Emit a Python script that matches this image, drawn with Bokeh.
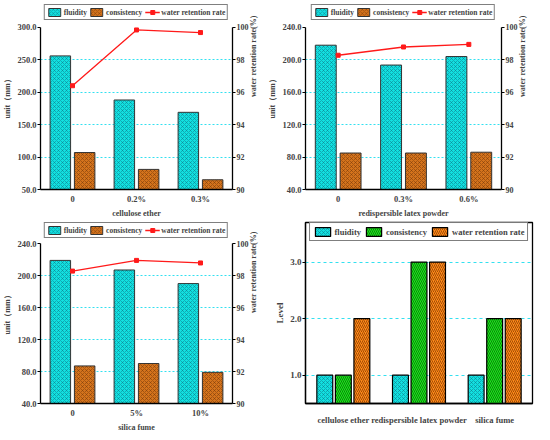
import math
from bokeh.plotting import figure
from bokeh.models import (Range1d, LinearAxis, FactorRange, Legend, LegendItem,
                          FixedTicker, NumeralTickFormatter, ColumnDataSource)
from bokeh.transform import dodge
from bokeh.layouts import column, row
from bokeh.embed import file_html
from bokeh.resources import INLINE

FONT = "Liberation Serif"

# ---- data ----
ce_cats = ["0", "0.2%", "0.3%"]
ce_fluidity = [256, 188, 169]
ce_consistency = [107, 81, 65]
ce_wrr = [96.4, 99.84, 99.68]

rlp_cats = ["0", "0.3%", "0.6%"]
rlp_fluidity = [218, 193.5, 204]
rlp_consistency = [85, 85, 86]
rlp_wrr = [98.28, 98.79, 98.95]

sf_cats = ["0", "5%", "10%"]
sf_fluidity = [219, 207, 190]
sf_consistency = [87, 90, 79]
sf_wrr = [98.28, 98.95, 98.79]

lvl_cats = ["cellulose ether", "redispersible latex powder", "silica fume"]
lvl_fluidity = [1, 1, 1]
lvl_consistency = [1, 3, 2]
lvl_wrr = [2, 3, 2]

series_names = ["fluidity", "consistency", "water retention rate"]

CYAN = "#12E0E0"
CYAN_H = "#0A6F80"
BROWN = "#D4731C"
BROWN_H = "#6E3306"


def style_axis(ax, size="8.5px"):
    ax.axis_line_width = 1.3
    ax.axis_line_color = "black"
    ax.major_tick_line_width = 1.2
    ax.major_tick_in = 0
    ax.major_tick_out = 3
    ax.minor_tick_line_color = None
    ax.major_label_text_font = FONT
    ax.major_label_text_font_style = "bold"
    ax.major_label_text_font_size = size
    ax.major_label_standoff = 1
    ax.axis_label_text_font = FONT
    ax.axis_label_text_font_style = "bold"
    ax.axis_label_text_font_size = "8px"
    ax.axis_label_standoff = 2
    ax.axis_label_text_line_height = 1.0


def make_panel(cats, fl, co, wr, ylo, yhi, ystep, xlabel, width, height, borders, pad):
    bl, br, bt, bb = borders
    top = yhi + (yhi - ylo) * pad
    p = figure(x_range=FactorRange(*cats), y_range=Range1d(ylo, top), title=None,
               width=width, height=height, output_backend="svg",
               toolbar_location=None, min_border_left=bl, min_border_right=br,
               min_border_top=bt, min_border_bottom=bb)
    p.outline_line_color = None
    src = ColumnDataSource(dict(cat=cats, fl=fl, co=co, wr=wr))
    r1 = p.vbar(x=dodge("cat", -0.19, range=p.x_range), top="fl", bottom=ylo,
                width=0.32, source=src, fill_color=CYAN, line_color="#333333",
                line_width=1, hatch_pattern="x", hatch_color=CYAN_H,
                hatch_scale=4, hatch_weight=0.6, hatch_alpha=0.8)
    r2 = p.vbar(x=dodge("cat", 0.19, range=p.x_range), top="co", bottom=ylo,
                width=0.32, source=src, fill_color=BROWN, line_color="#333333",
                line_width=1, hatch_pattern="x", hatch_color=BROWN_H,
                hatch_scale=4, hatch_weight=0.6, hatch_alpha=0.8)
    p.extra_y_ranges = {"wrr": Range1d(90, 100 + 10 * pad)}
    r3 = p.line(x="cat", y="wr", source=src, y_range_name="wrr",
                line_color="#FF1A1A", line_width=1.3)
    r4 = p.scatter(x="cat", y="wr", source=src, y_range_name="wrr",
                   marker="square", size=4, color="#FF1A1A")

    ticks = list(range(ylo, yhi + 1, ystep))
    left = p.yaxis[0]
    left.ticker = FixedTicker(ticks=ticks)
    left.formatter = NumeralTickFormatter(format="0.0")
    left.axis_label = "unit（mm）"
    left.bounds = (ylo, yhi)
    style_axis(left)

    right = LinearAxis(y_range_name="wrr", ticker=FixedTicker(ticks=[90, 92, 94, 96, 98, 100]),
                       axis_label="water retention rate(%)", bounds=(90, 100))
    style_axis(right, "8px")
    right.axis_label_orientation = math.pi / 2
    p.add_layout(right, "right")

    xa = p.xaxis[0]
    style_axis(xa)
    xa.major_tick_line_color = None
    xa.axis_label = xlabel

    p.xgrid.visible = False
    p.ygrid.ticker = FixedTicker(ticks=ticks[1:-1])
    p.ygrid.grid_line_color = "#33E0F0"
    p.ygrid.grid_line_dash = "2 2"
    p.ygrid.grid_line_width = 1

    leg = Legend(items=[LegendItem(label=series_names[0], renderers=[r1]),
                        LegendItem(label=series_names[1], renderers=[r2]),
                        LegendItem(label=series_names[2], renderers=[r3, r4])],
                 orientation="horizontal", location="top_center")
    leg.label_text_font = FONT
    leg.label_text_font_style = "bold"
    leg.label_text_font_size = "7.5px"
    leg.glyph_width = 15
    leg.glyph_height = 10
    leg.label_height = 10
    leg.label_standoff = 2
    leg.spacing = 2
    leg.padding = 2
    leg.margin = 0
    leg.border_line_color = "black"
    leg.border_line_width = 1.2
    p.add_layout(leg, "center")
    return p


p1 = make_panel(ce_cats, ce_fluidity, ce_consistency, ce_wrr, 50, 300, 50,
                "cellulose ether", 265, 220, (30, 20, 4, 28), 0.141)
p2 = make_panel(rlp_cats, rlp_fluidity, rlp_consistency, rlp_wrr, 40, 240, 40,
                "redispersible latex powder", 269, 220, (38, 20, 4, 28), 0.141)
p3 = make_panel(sf_cats, sf_fluidity, sf_consistency, sf_wrr, 40, 240, 40,
                "silica fume", 265, 214, (30, 20, 2, 28), 0.132)

# ---- level panel ----
p4 = figure(x_range=FactorRange(*lvl_cats), y_range=Range1d(0.5, 3.7), title=None,
            width=269, height=214, output_backend="svg", toolbar_location=None,
            min_border_left=40, min_border_right=2, min_border_top=2,
            min_border_bottom=28)
p4.outline_line_color = "black"
p4.outline_line_width = 1.3
src4 = ColumnDataSource(dict(cat=lvl_cats, fl=lvl_fluidity, co=lvl_consistency, wr=lvl_wrr))
q1 = p4.vbar(x=dodge("cat", -0.245, range=p4.x_range), top="fl", bottom=0.5, width=0.21,
             source=src4, fill_color=CYAN, line_color="black", line_width=1.2,
             hatch_pattern="x", hatch_color=CYAN_H, hatch_scale=4, hatch_weight=0.6,
             hatch_alpha=0.8)
q2 = p4.vbar(x=dodge("cat", 0.0, range=p4.x_range), top="co", bottom=0.5, width=0.21,
             source=src4, fill_color="#19F019", line_color="black", line_width=1.2,
             hatch_pattern="\\", hatch_color="#0B5E0B", hatch_scale=4, hatch_weight=0.8)
q3 = p4.vbar(x=dodge("cat", 0.245, range=p4.x_range), top="wr", bottom=0.5, width=0.21,
             source=src4, fill_color="#FF8A1A", line_color="black", line_width=1.2,
             hatch_pattern="/", hatch_color="#8A3C00", hatch_scale=4, hatch_weight=0.8)
ya4 = p4.yaxis[0]
ya4.ticker = FixedTicker(ticks=[1, 2, 3])
ya4.formatter = NumeralTickFormatter(format="0.0")
ya4.axis_label = "Level"
style_axis(ya4, "9px")
ya4.axis_label_text_font_size = "9px"
xa4 = p4.xaxis[0]
style_axis(xa4, "8.5px")
xa4.major_tick_line_color = None
xa4.major_label_standoff = 8
p4.xgrid.visible = False
p4.ygrid.ticker = FixedTicker(ticks=[1, 2, 3])
p4.ygrid.grid_line_color = "#33E0F0"
p4.ygrid.grid_line_dash = "3 3"
leg4 = Legend(items=[LegendItem(label=series_names[0], renderers=[q1]),
                     LegendItem(label=series_names[1], renderers=[q2]),
                     LegendItem(label=series_names[2], renderers=[q3])],
              orientation="horizontal", location="top_center")
leg4.label_text_font = FONT
leg4.label_text_font_style = "bold"
leg4.label_text_font_size = "8.5px"
leg4.glyph_width = 19
leg4.glyph_height = 11
leg4.label_height = 11
leg4.label_standoff = 3
leg4.spacing = 3
leg4.padding = 3
leg4.margin = 0
leg4.border_line_color = "black"
leg4.border_line_width = 1.2
p4.add_layout(leg4, "center")

layout = column(row(p1, p2), row(p3, p4))
open("out.html", "w").write(file_html(layout, INLINE))
